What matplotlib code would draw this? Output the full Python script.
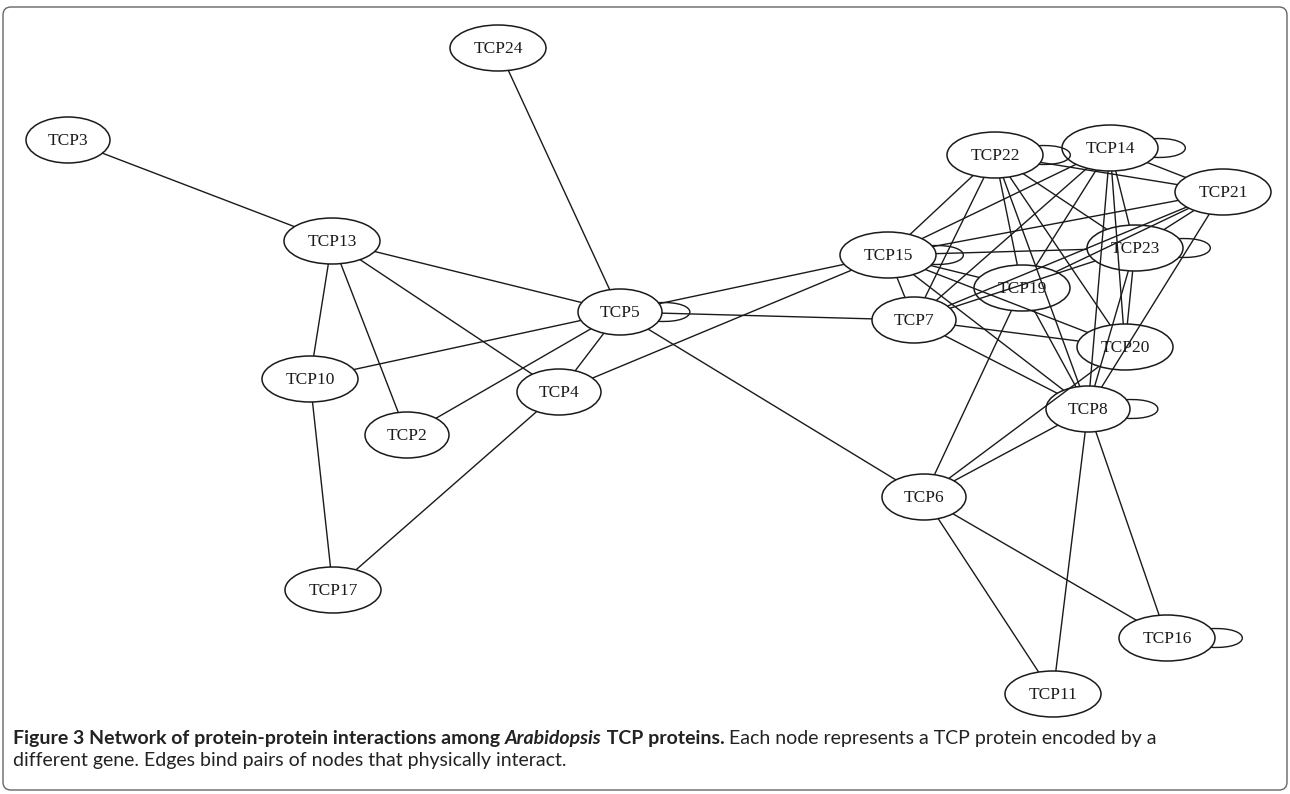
import matplotlib
matplotlib.use("Agg")
import matplotlib.pyplot as plt
from matplotlib.patches import Ellipse, FancyBboxPatch, PathPatch
from matplotlib.path import Path
import numpy as np

# ---------------- data ----------------
node_names = ["TCP24", "TCP3", "TCP13", "TCP5", "TCP10", "TCP2", "TCP4", "TCP17",
              "TCP15", "TCP22", "TCP14", "TCP21", "TCP23", "TCP19", "TCP7", "TCP20",
              "TCP8", "TCP6", "TCP16", "TCP11"]
node_x = [498, 68, 332, 620, 310, 407, 559, 333,
          888, 995, 1110, 1223, 1135, 1022, 914, 1125,
          1088, 924, 1167, 1053]
node_y = [48, 140, 241, 312, 379, 435, 392, 590,
          255, 155, 148, 192, 248, 288, 320, 347,
          409, 497, 638, 694]

edges_left = [("TCP3", "TCP13"), ("TCP24", "TCP5"), ("TCP13", "TCP5"), ("TCP13", "TCP10"),
              ("TCP13", "TCP2"), ("TCP13", "TCP4"), ("TCP10", "TCP5"), ("TCP10", "TCP17"),
              ("TCP2", "TCP5"), ("TCP4", "TCP5"), ("TCP4", "TCP17"), ("TCP4", "TCP15"),
              ("TCP5", "TCP15"), ("TCP5", "TCP7"), ("TCP5", "TCP6")]
edges_right = [("TCP15", "TCP22"), ("TCP15", "TCP14"), ("TCP15", "TCP21"), ("TCP15", "TCP23"),
               ("TCP15", "TCP19"), ("TCP15", "TCP7"), ("TCP15", "TCP20"), ("TCP15", "TCP8"),
               ("TCP22", "TCP7"), ("TCP22", "TCP19"), ("TCP22", "TCP8"), ("TCP22", "TCP20"),
               ("TCP22", "TCP23"), ("TCP22", "TCP21"),
               ("TCP14", "TCP7"), ("TCP14", "TCP19"), ("TCP14", "TCP8"), ("TCP14", "TCP20"),
               ("TCP14", "TCP23"), ("TCP14", "TCP21"),
               ("TCP21", "TCP19"), ("TCP21", "TCP23"), ("TCP21", "TCP8"), ("TCP21", "TCP7"),
               ("TCP23", "TCP7"), ("TCP23", "TCP8"), ("TCP23", "TCP20"),
               ("TCP19", "TCP8"), ("TCP19", "TCP6"),
               ("TCP7", "TCP20"), ("TCP7", "TCP8"),
               ("TCP8", "TCP6"), ("TCP8", "TCP11"), ("TCP8", "TCP16"),
               ("TCP6", "TCP20"), ("TCP6", "TCP16"), ("TCP6", "TCP11")]
self_loops = ["TCP5", "TCP15", "TCP22", "TCP14", "TCP23", "TCP8", "TCP16"]

caption_line1 = [("Figure 3 Network of protein-protein interactions among ", "bold", "normal"),
                 ("Arabidopsis", "bold", "italic"),
                 (" TCP proteins.", "bold", "normal"),
                 (" Each node represents a TCP protein encoded by a", "normal", "normal")]
caption_line2 = [("different gene. Edges bind pairs of nodes that physically interact.", "normal", "normal")]

# ---------------- figure ----------------
W, H = 1290, 794
fig = plt.figure(figsize=(W / 100, H / 100), dpi=100)
ax = fig.add_axes([0, 0, 1, 1])
ax.set_xlim(0, W)
ax.set_ylim(H, 0)
ax.axis("off")

pos = {n: (x, y) for n, x, y in zip(node_names, node_x, node_y)}
half_h = 23.0


def half_w(name):
    return (36 + 12 * len(name)) / 2.0


def boundary(name, ux, uy):
    a, b = half_w(name), half_h
    t = 1.0 / np.sqrt((ux / a) ** 2 + (uy / b) ** 2)
    return ux * t, uy * t


edge_color = "#1a1a1a"
for u, v in edges_left + edges_right:
    x0, y0 = pos[u]
    x1, y1 = pos[v]
    d = np.hypot(x1 - x0, y1 - y0)
    ux, uy = (x1 - x0) / d, (y1 - y0) / d
    sx, sy = boundary(u, ux, uy)
    ex, ey = boundary(v, -ux, -uy)
    ax.plot([x0 + sx, x1 + ex], [y0 + sy, y1 + ey], color=edge_color, lw=1.0,
            solid_capstyle="butt", zorder=1)

# self loops on the right side of the node
for n in self_loops:
    cx, cy = pos[n]
    a, b = half_w(n), half_h
    th = np.deg2rad(24)
    p0 = (cx + a * np.cos(th), cy - b * np.sin(th))
    p3 = (cx + a * np.cos(th), cy + b * np.sin(th))
    L = 42
    p1 = (p0[0] + L, p0[1] - 2)
    p2 = (p3[0] + L, p3[1] + 2)
    path = Path([p0, p1, p2, p3], [Path.MOVETO, Path.CURVE4, Path.CURVE4, Path.CURVE4])
    ax.add_patch(PathPatch(path, facecolor="none", edgecolor=edge_color, lw=1.0, zorder=1))

for n in node_names:
    cx, cy = pos[n]
    ax.add_patch(Ellipse((cx, cy), 2 * half_w(n), 2 * half_h, facecolor="none",
                         edgecolor="#1a1a1a", lw=1.1, zorder=2))
    ax.text(cx, cy + 1, n, ha="center", va="center", fontsize=12.5,
            family="Liberation Serif", color="#1a1a1a", zorder=3)

# frame
ax.add_patch(FancyBboxPatch((3, 7), W - 6, 783, boxstyle="round,pad=0,rounding_size=8",
                            facecolor="none", edgecolor="#666666", lw=1.0, zorder=0))

# caption
fig.canvas.draw()
renderer = fig.canvas.get_renderer()
cap_family = ["Lato", "DejaVu Sans"]
cap_size = 14.0


def draw_line(pieces, x, y):
    for txt, weight, style in pieces:
        t = ax.text(x, y, txt, ha="left", va="baseline", fontsize=cap_size,
                    fontweight=weight, fontstyle=style, family=cap_family, color="#222222")
        bb = t.get_window_extent(renderer)
        x += bb.width


draw_line(caption_line1, 13, 744)
draw_line(caption_line2, 13, 766)

fig.savefig("out.png", dpi=100)
